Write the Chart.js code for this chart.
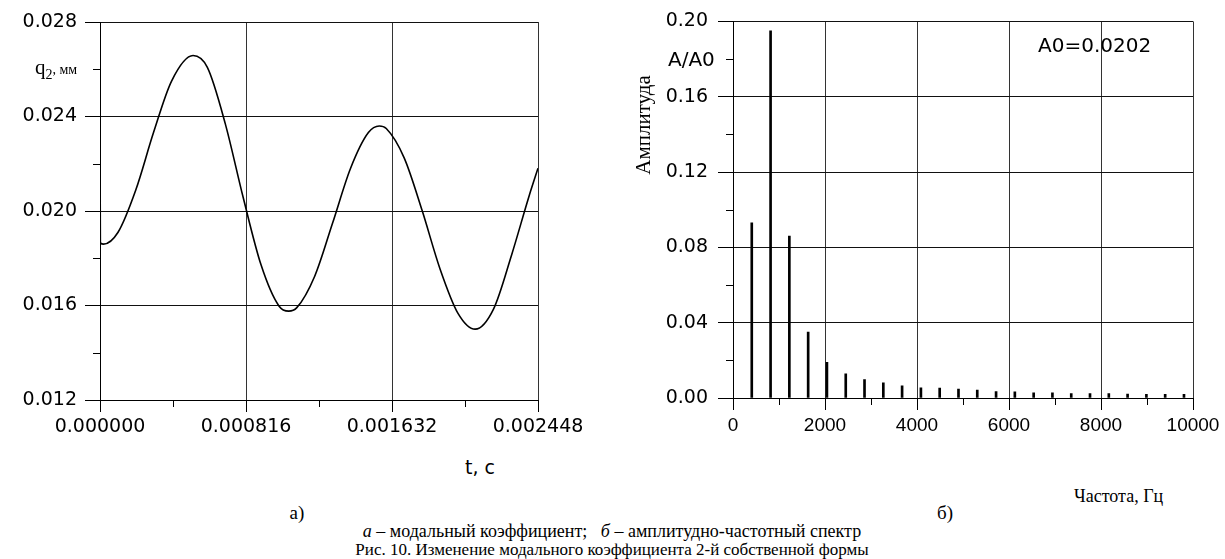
<!DOCTYPE html>
<html lang="ru">
<head>
<meta charset="utf-8">
<title>Рис. 10</title>
<script src="https://cdn.jsdelivr.net/npm/chart.js@4.4.1/dist/chart.umd.min.js"></script>
<style>
  html, body { margin: 0; padding: 0; background: #fff; }
  body { width: 1225px; height: 559px; position: relative; overflow: hidden; }
  .box { position: absolute; }
  .txt { position: absolute; white-space: pre; color: #000; line-height: 1; }
  .sans { font-family: "DejaVu Sans", sans-serif; }
  .serif { font-family: "Liberation Serif", "Times New Roman", serif; }
</style>
</head>
<body>

<div class="box" style="left:0; top:0; width:620px; height:450px;"><canvas id="chartA"></canvas></div>
<div class="box" style="left:620px; top:0; width:605px; height:450px;"><canvas id="chartB"></canvas></div>

<!-- подписи осей -->
<div class="txt serif" style="left:35px; top:57px; font-size:21px;">q<sub style="font-size:14px;">2</sub><span style="font-size:14px;">, мм</span></div>
<div class="txt sans" style="left:465px; top:458px; font-size:19px;">t, с</div>

<div class="txt sans" style="left:668px; top:49px; font-size:20px;">A/A0</div>
<div class="txt serif" style="left:643px; top:125px; font-size:21px; transform: translate(-50%, -50%) rotate(-90deg);">Амплитуда</div>
<div class="txt sans" style="left:1038px; top:35px; font-size:20px;">A0=0.0202</div>
<div class="txt serif" style="left:1074px; top:487px; font-size:18px;">Частота, Гц</div>

<!-- подписи рисунка -->
<div class="txt serif" style="left:297px; top:512px; font-size:19px; transform: translate(-50%, -50%);">а)</div>
<div class="txt serif" style="left:945px; top:512px; font-size:19px; transform: translate(-50%, -50%);">б)</div>
<div class="txt serif" style="left:612px; top:531px; font-size:18px; transform: translate(-50%, -50%);"><i>а</i> – модальный коэффициент;   <i>б</i> – амплитудно-частотный спектр</div>
<div class="txt serif" style="left:612px; top:549px; font-size:17px; transform: translate(-50%, -50%);">Рис. 10. Изменение модального коэффициента 2-й собственной формы</div>

<script>
// --- данные графика а): модальный коэффициент q2(t)
const timeA = [
    0, 0.000002, 0.00002, 0.0001, 0.0002, 0.0003, 0.0004, 0.00052,
    0.0006, 0.0007, 0.0008, 0.0009, 0.0010, 0.001055, 0.0011, 0.0012,
    0.0013, 0.0014, 0.0015, 0.001561, 0.0016, 0.0017, 0.0018, 0.0019,
    0.0020, 0.002097, 0.0022, 0.0023, 0.0024, 0.002448
];
const q2A = [
    0.02365, 0.01865, 0.01860, 0.01909, 0.02089, 0.02334, 0.02550, 0.02658,
    0.02608, 0.02370, 0.02058, 0.01772, 0.01598, 0.01576, 0.01591, 0.01724,
    0.01949, 0.02180, 0.02332, 0.02360, 0.02349, 0.02225, 0.02003, 0.01756,
    0.01568, 0.01500, 0.01586, 0.01813, 0.02068, 0.02181
];
const xTicksA = [0, 0.000816, 0.001632, 0.002448];
const xMinorA = [0.000408, 0.001224, 0.002040];
const yTicksA = [0.012, 0.016, 0.020, 0.024, 0.028];
const yMinorA = [0.014, 0.018, 0.022, 0.026];

// --- данные графика б): амплитудно-частотный спектр
const freqB = [
    408, 817, 1225, 1634, 2042, 2451, 2859, 3268, 3676, 4085, 4493, 4902,
    5310, 5719, 6127, 6536, 6944, 7353, 7761, 8170, 8578, 8987, 9395, 9804
];
const ampB = [
    0.093, 0.195, 0.086, 0.035, 0.019, 0.0128, 0.0098, 0.0080, 0.0064, 0.0054, 0.0053, 0.0047,
    0.0042, 0.0034, 0.0033, 0.0028, 0.0028, 0.0024, 0.0024, 0.0023, 0.0021, 0.0020, 0.0020, 0.0020
];
const xTicksB = [0, 2000, 4000, 6000, 8000, 10000];
const xMinorB = [1000, 3000, 5000, 7000, 9000];
const yTicksB = [0, 0.04, 0.08, 0.12, 0.16, 0.20];
const yMinorB = [0.02, 0.06, 0.10, 0.14, 0.18];

// Малые засечки на осях (Chart.js их не рисует сам)
const minorTicksPlugin = {
    id: 'minorTicks',
    afterDraw(chart, args, opts) {
        const ctx = chart.ctx;
        const xs = chart.scales.x, ys = chart.scales.y;
        const area = chart.chartArea;
        ctx.save();
        ctx.strokeStyle = '#000';
        ctx.lineWidth = 1;
        ctx.beginPath();
        (opts.x || []).forEach(v => {
            const px = Math.round(xs.getPixelForValue(v)) + 0.5;
            ctx.moveTo(px, area.bottom);
            ctx.lineTo(px, area.bottom + opts.len);
        });
        (opts.y || []).forEach(v => {
            const py = Math.round(ys.getPixelForValue(v)) + 0.5;
            ctx.moveTo(area.left - opts.len, py);
            ctx.lineTo(area.left, py);
        });
        ctx.stroke();
        ctx.restore();
    }
};

function fixedTicks(values) {
    return function(scale) {
        scale.ticks = values.map(v => ({ value: v }));
    };
}

Chart.defaults.animation = false;
Chart.defaults.color = '#000';

// график а)
new Chart(document.getElementById('chartA'), {
    type: 'line',
    data: {
        datasets: [{
            data: timeA.map((t, i) => ({ x: t, y: q2A[i] })),
            borderColor: '#000',
            borderWidth: 1.6,
            pointRadius: 0,
            cubicInterpolationMode: 'monotone',
            fill: false
        }]
    },
    options: {
        responsive: true,
        maintainAspectRatio: false,
        layout: { padding: { left: 0, top: 22, right: 82, bottom: 10 } },
        plugins: {
            legend: { display: false },
            tooltip: { enabled: false },
            minorTicks: { x: xMinorA, y: yMinorA, len: 7 }
        },
        scales: {
            x: {
                type: 'linear',
                min: 0,
                max: 0.002448,
                afterBuildTicks: fixedTicks(xTicksA),
                afterFit(scale) { scale.height = 40; },
                grid: { color: '#333', lineWidth: 1, tickLength: 12, tickColor: '#000' },
                border: { color: '#000' },
                ticks: {
                    maxRotation: 0,
                    autoSkip: false,
                    padding: 4,
                    font: { family: 'DejaVu Sans', size: 19 },
                    callback: v => v.toFixed(6)
                }
            },
            y: {
                min: 0.012,
                max: 0.028,
                afterBuildTicks: fixedTicks(yTicksA),
                afterFit(scale) { scale.width = 100; },
                grid: { color: '#111', lineWidth: 1, tickLength: 15, tickColor: '#000' },
                border: { color: '#000' },
                ticks: {
                    autoSkip: false,
                    padding: 8,
                    font: { family: 'DejaVu Sans', size: 19 },
                    callback: v => v.toFixed(3)
                }
            }
        }
    },
    plugins: [minorTicksPlugin]
});

// график б)
new Chart(document.getElementById('chartB'), {
    type: 'bar',
    data: {
        datasets: [{
            data: freqB.map((f, i) => ({ x: f, y: ampB[i] })),
            backgroundColor: '#000',
            borderWidth: 0,
            barThickness: 2
        }]
    },
    options: {
        responsive: true,
        maintainAspectRatio: false,
        layout: { padding: { left: 0, top: 21, right: 32, bottom: 12 } },
        plugins: {
            legend: { display: false },
            tooltip: { enabled: false },
            minorTicks: { x: xMinorB, y: yMinorB, len: 7 }
        },
        scales: {
            x: {
                type: 'linear',
                min: 0,
                max: 10000,
                offset: false,
                afterBuildTicks: fixedTicks(xTicksB),
                afterFit(scale) { scale.height = 40; },
                grid: { color: '#333', lineWidth: 1, tickLength: 12, tickColor: '#000', offset: false },
                border: { color: '#000' },
                ticks: {
                    maxRotation: 0,
                    autoSkip: false,
                    padding: 4,
                    font: { family: 'Liberation Sans', size: 19 },
                    callback: v => String(v)
                }
            },
            y: {
                min: 0,
                max: 0.20,
                afterBuildTicks: fixedTicks(yTicksB),
                afterFit(scale) { scale.width = 113; },
                grid: { color: '#111', lineWidth: 1, tickLength: 15, tickColor: '#000' },
                border: { color: '#000' },
                ticks: {
                    autoSkip: false,
                    padding: 10,
                    font: { family: 'DejaVu Sans', size: 19 },
                    callback: v => v.toFixed(2)
                }
            }
        }
    },
    plugins: [minorTicksPlugin]
});
</script>
</body>
</html>
